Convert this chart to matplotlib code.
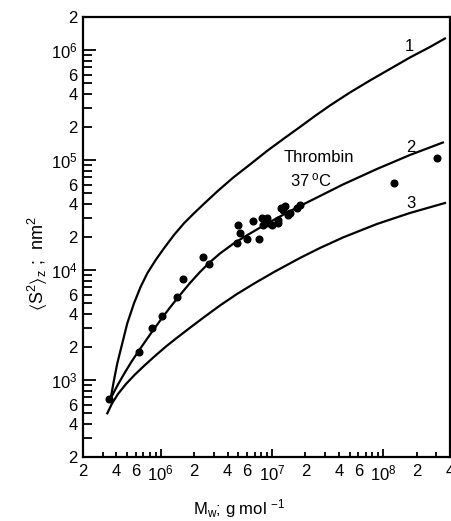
import numpy as np
import matplotlib
matplotlib.use("Agg")
import matplotlib.pyplot as plt
from matplotlib.ticker import LogLocator, FuncFormatter

plt.rcParams['font.family'] = ['Liberation Sans', 'DejaVu Sans']
plt.rcParams['mathtext.default'] = 'regular'

# theoretical curves 1, 2, 3 (M_w in g/mol, <S^2>_z in nm^2)
m1 = [3.550e5, 3.801e5, 4.069e5, 4.512e5, 5.005e5, 5.750e5, 6.606e5, 7.574e5,
      9.011e5, 1.070e6, 1.316e6, 1.619e6, 1.992e6, 2.449e6, 3.273e6, 4.466e6,
      6.351e6, 9.031e6, 1.284e7, 1.788e7, 2.440e7, 3.329e7, 5.037e7, 7.618e7,
      1.153e8, 1.744e8, 2.639e8, 3.601e8]
s1 = [683, 1002, 1422, 2161, 3285, 4993, 7068, 9354,
      1.236e4, 1.579e4, 2.086e4, 2.665e4, 3.285e4, 4.007e4, 5.260e4, 6.908e4,
      9.124e4, 1.210e5, 1.572e5, 2.000e5, 2.518e5, 3.137e5, 4.117e5, 5.293e5,
      6.736e5, 8.568e5, 1.067e6, 1.275e6]

m2 = [3.550e5, 4.044e5, 4.674e5, 5.403e5, 6.377e5, 7.222e5, 8.347e5, 1.020e6,
      1.212e6, 1.491e6, 1.833e6, 2.255e6, 2.718e6, 3.412e6, 4.466e6, 5.726e6,
      8.143e6, 1.182e7, 1.788e7, 2.706e7, 4.356e7, 8.808e7, 1.744e8, 3.454e8]
s2 = [683, 879, 1136, 1446, 1859, 2230, 2750, 3633,
      4572, 5938, 7633, 9612, 1.160e4, 1.416e4, 1.728e4, 2.021e4,
      2.492e4, 3.072e4, 3.826e4, 4.717e4, 6.003e4, 8.304e4, 1.113e5, 1.446e5]

m3 = [3.308e5, 3.646e5, 4.128e5, 4.873e5, 5.870e5, 7.222e5, 8.883e5, 1.115e6,
      1.430e6, 1.872e6, 2.501e6, 3.412e6, 4.852e6, 7.045e6, 1.066e7, 1.788e7,
      2.706e7, 4.356e7, 8.808e7, 1.744e8, 3.601e8]
s3 = [499, 613, 748, 922, 1125, 1372, 1657, 2021,
      2466, 3040, 3789, 4768, 6064, 7633, 9714, 1.289e4,
      1.589e4, 1.980e4, 2.626e4, 3.306e4, 4.075e4]

# thrombin measurements, 37 C
mw = [3.45e5, 6.38e5, 8.30e5, 1.02e6, 1.41e6, 1.58e6, 2.41e6, 2.72e6,
      4.99e6, 5.16e6, 4.82e6, 5.93e6, 6.71e6, 7.69e6, 8.09e6, 8.97e6,
      8.36e6, 9.27e6, 9.95e6, 1.14e7, 1.14e7, 1.22e7, 1.31e7, 1.27e7,
      1.40e7, 1.45e7, 1.67e7, 1.79e7, 1.26e8, 3.03e8]
s2z = [669, 1811, 2996, 3828, 5728, 8252, 1.32e4, 1.14e4,
       2.57e4, 2.19e4, 1.75e4, 1.91e4, 2.80e4, 1.93e4, 2.96e4, 2.96e4,
       2.57e4, 2.66e4, 2.57e4, 2.66e4, 2.86e4, 3.65e4, 3.83e4, 3.52e4,
       3.17e4, 3.33e4, 3.65e4, 3.91e4, 6.15e4, 1.05e5]

fig = plt.figure(figsize=(4.52, 5.21), dpi=100)
ax = fig.add_axes([83 / 452, 64 / 521, 367 / 452, 440 / 521])

for m, s in [(m1, s1), (m2, s2), (m3, s3)]:
    ax.plot(m, s, color='black', lw=1.6, solid_joinstyle='round')
ax.plot(mw, s2z, 'o', color='black', ms=4.8)

ax.set_xscale('log')
ax.set_yscale('log')
ax.set_xlim(2e5, 4e8)
ax.set_ylim(2e2, 2e6)


def major_fmt(v, pos):
    return r'$10^{%d}$' % int(round(np.log10(v)))


def minor_fmt(v, pos):
    m = int(round(v / 10 ** np.floor(np.log10(v) + 1e-9)))
    return str(m) if m in (2, 4, 6) else ''


for axis in (ax.xaxis, ax.yaxis):
    axis.set_major_locator(LogLocator(base=10))
    axis.set_minor_locator(LogLocator(base=10, subs=np.arange(2, 10)))
    axis.set_major_formatter(FuncFormatter(major_fmt))
    axis.set_minor_formatter(FuncFormatter(minor_fmt))

ax.tick_params(axis='both', which='both', direction='in', labelsize=12, width=1.3)
ax.tick_params(axis='x', which='major', length=5.5, pad=5)
ax.tick_params(axis='x', which='minor', length=3.8, pad=5)
ax.tick_params(axis='y', which='major', length=9, pad=4)
ax.tick_params(axis='y', which='minor', length=6.5, pad=4)
for sp in ax.spines.values():
    sp.set_linewidth(1.6)

ax.set_xlabel(r'M$_w$; g mol $^{-1}$', fontsize=12)
ax.xaxis.set_label_coords(0.425, -0.09)
ax.set_ylabel(r'$\langle$S$^2\rangle_z$ ;  nm$^2$', fontsize=13)
ax.yaxis.set_label_coords(-0.09, 0.44)

ax.text(1.71e8, 1.07e6, '1', fontsize=12, ha='center', va='center')
ax.text(1.78e8, 1.31e5, '2', fontsize=12, ha='center', va='center')
ax.text(1.78e8, 4.0e4, '3', fontsize=12, ha='center', va='center')
ax.text(2.65e7, 1.067e5, 'Thrombin', fontsize=12, ha='center', va='center')
ax.text(2.25e7, 6.6e4, r'37$\,^{o}$C', fontsize=12, ha='center', va='center')

fig.savefig('out.png', dpi=100)
